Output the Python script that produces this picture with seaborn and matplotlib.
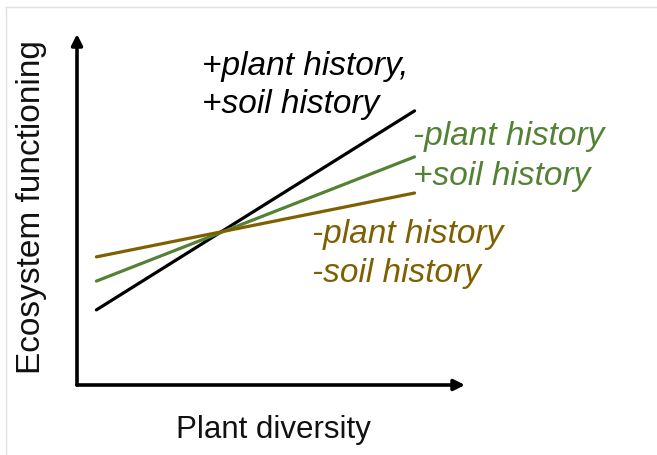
import seaborn as sns
import matplotlib.pyplot as plt
import pandas as pd
from matplotlib.lines import Line2D

# conceptual endpoints (axis units 0-10)
diversity = [0.5, 8.7]
plus_plus = [2.14, 7.81]     # +plant, +soil
minus_plus = [2.96, 6.50]    # -plant, +soil
minus_minus = [3.65, 5.47]   # -plant, -soil

scenarios = ['+plant history,\n+soil history',
             '-plant history\n+soil history',
             '-plant history\n-soil history']
colors = ['#000000', '#548235', '#7f6000']

df = pd.DataFrame({
    'diversity': diversity * 3,
    'functioning': plus_plus + minus_plus + minus_minus,
    'history': [s for s in scenarios for _ in diversity],
})

sns.set_style('white')
plt.rcParams['font.family'] = ['Liberation Sans', 'DejaVu Sans']

W, H = 657, 456
fig = plt.figure(figsize=(W / 100, H / 100), dpi=100)
# plot area in pixels: x 77..465, y 35..386
ax = fig.add_axes([77 / W, (H - 386) / H, (465 - 77) / W, (386 - 35) / H])

sns.lineplot(data=df, x='diversity', y='functioning', hue='history',
             palette=dict(zip(scenarios, colors)), linewidth=2.3,
             legend=False, ax=ax)

ax.set_xlim(0, 10)
ax.set_ylim(0, 10)
ax.set_xticks([])
ax.set_yticks([])
for sp in ax.spines.values():
    sp.set_visible(False)

# axis arrows
arrow = dict(arrowstyle='-|>', color='black', lw=2.6, mutation_scale=16,
             shrinkA=0, shrinkB=0)
ax.annotate('', xy=(1, 0), xytext=(0, 0), xycoords='axes fraction',
            arrowprops=arrow, annotation_clip=False)
ax.annotate('', xy=(0, 1), xytext=(0, 0), xycoords='axes fraction',
            arrowprops=arrow, annotation_clip=False)

ax.set_xlabel('Plant diversity', fontsize=22.5, color='#111111')
ax.set_ylabel('Ecosystem functioning', fontsize=24, color='#111111')
ax.xaxis.set_label_coords((273 - 77) / 388, (386 - 415) / 351)
ax.yaxis.set_label_coords((47 - 77) / 388, (386 - 207) / 351)

# scenario labels (left x, baselines of the two lines)
label_pos = [(3.22, 8.86, 7.78), (8.66, 6.87, 5.73), (6.06, 4.07, 2.96)]
for text, col, (lx, y1, y2) in zip(scenarios, colors, label_pos):
    l1, l2 = text.split('\n')
    for t, yy in ((l1, y1), (l2, y2)):
        ax.text(lx, yy, t, color=col, fontsize=24, fontstyle='italic',
                ha='left', va='baseline', clip_on=False)

# thin frame of the original screenshot
fig.add_artist(Line2D([6 / W, 6 / W], [0, 1 - 8 / H], color='#e0e0e0', lw=1))
fig.add_artist(Line2D([6 / W, 1], [1 - 8 / H, 1 - 8 / H], color='#e0e0e0', lw=1))

fig.savefig('out.png', dpi=100)
